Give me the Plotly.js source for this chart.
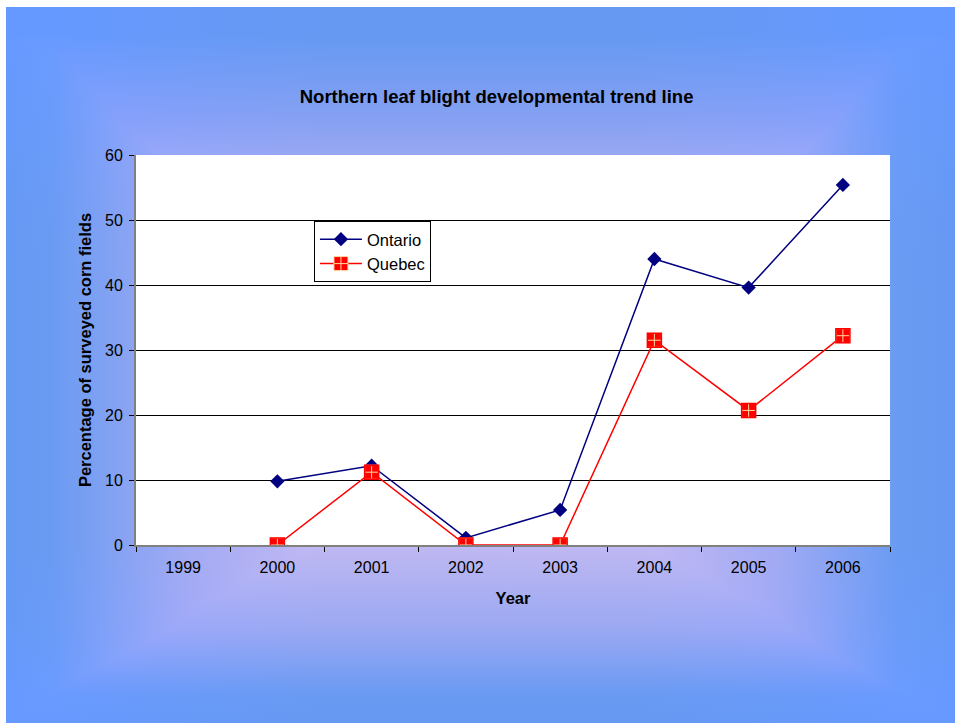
<!DOCTYPE html>
<html>
<head>
<meta charset="utf-8">
<script src="https://cdn.plot.ly/plotly-3.0.1.min.js"></script>
<style>
  html, body { margin: 0; padding: 0; background: #ffffff; }
  #bg { position: absolute; left: 6px; top: 7px; width: 949px; height: 716px;
        background-image:
          linear-gradient(to right, #6699FF 0%, #6A9BFF 5%, #A2AAF8 19%, #C4BAF2 34%, #C4BAF2 66%, #A2AAF8 81%, #6A9BFF 94%, #6699FF 100%),
          linear-gradient(to bottom, #6699FF 0%, #6699FF 4%, #84A0FB 15%, #B8B2F4 30%, #C4BAF2 45%, #C4BAF2 74%, #9AA8F8 87%, #6A9AFF 96%, #6699FF 100%);
        background-blend-mode: darken; }
  #chart { position: absolute; left: 0; top: 0; width: 955px; height: 723px; }
</style>
</head>
<body>
<div id="bg"></div>
<div id="chart"></div>
<script>
const years = ['1999', '2000', '2001', '2002', '2003', '2004', '2005', '2006'];
const dataYears = ['2000', '2001', '2002', '2003', '2004', '2005', '2006'];
const ontario = [9.8, 12.2, 1.1, 5.4, 44.0, 39.6, 55.4];
const quebec = [0, 11.2, 0, 0, 31.5, 20.7, 32.2];
const yTicks = [0, 10, 20, 30, 40, 50, 60];

const font = 'Liberation Sans, Arial, sans-serif';

const traces = [
  {
    x: dataYears, y: ontario, name: 'Ontario', type: 'scatter', mode: 'lines+markers',
    line: {color: '#000080', width: 1.5},
    marker: {symbol: 'diamond', size: 11, color: '#000080'}
  },
  {
    x: dataYears, y: quebec, name: 'Quebec', type: 'scatter', mode: 'lines+markers',
    line: {color: '#FF0000', width: 1.5},
    marker: {symbol: 'square-cross', size: 14, color: '#FF0000', line: {color: '#FFD8A0', width: 1}}
  },
  {
    x: dataYears, y: quebec, name: 'Quebec', type: 'scatter', mode: 'markers', showlegend: false, hoverinfo: 'skip',
    marker: {symbol: 'square-open', size: 14, color: '#FF0000', line: {color: '#FF0000', width: 1.5}}
  }
];

const layout = {
  width: 955, height: 723,
  paper_bgcolor: 'rgba(0,0,0,0)',
  plot_bgcolor: '#ffffff',
  margin: {l: 136, r: 65, t: 155, b: 178},
  font: {family: font, size: 16, color: '#000'},
  title: {text: '<b>Northern leaf blight developmental trend line</b>', font: {family: font, size: 18.5, color: '#000'},
          x: 0.52, xref: 'container', xanchor: 'center', y: 0.867, yref: 'container', yanchor: 'middle'},
  xaxis: {
    type: 'category', categoryorder: 'array', categoryarray: years,
    range: [-0.5, 7.5], tickson: 'boundaries', ticks: 'outside', ticklen: 5, tickcolor: '#000',
    showline: true, linecolor: '#808080', linewidth: 2, showgrid: false, zeroline: false,
    ticklabelstandoff: 7,
    tickfont: {family: font, size: 16, color: '#000'},
    title: {text: '<b>Year</b>', font: {family: font, size: 16.5, color: '#000'}, standoff: 17}
  },
  yaxis: {
    range: [0, 60], tickvals: yTicks, ticks: 'outside', ticklen: 5, tickcolor: '#000',
    showline: true, linecolor: '#808080', linewidth: 2, showgrid: true, gridcolor: '#000', gridwidth: 1,
    zeroline: false, ticklabelstandoff: 3,
    tickfont: {family: font, size: 16, color: '#000'},
    title: {text: '<b>Percentage of surveyed corn fields</b>', font: {family: font, size: 16.5, color: '#000'}, standoff: 9}
  },
  legend: {
    x: 0.236, y: 0.831, xanchor: 'left', yanchor: 'top',
    bgcolor: '#ffffff', bordercolor: '#000', borderwidth: 1,
    font: {family: font, size: 16.5, color: '#000'},
    itemwidth: 42,
    tracegroupgap: 6
  },
  showlegend: true
};

Plotly.newPlot('chart', traces, layout, {displayModeBar: false, staticPlot: true});
</script>
</body>
</html>
